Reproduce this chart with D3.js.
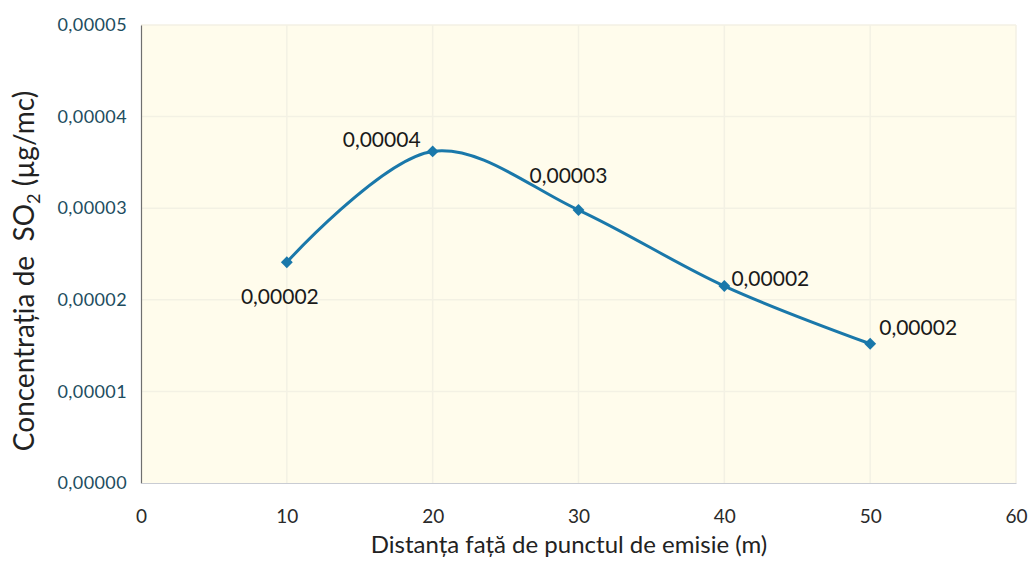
<!DOCTYPE html>
<html>
<head>
<meta charset="utf-8">
<script src="https://cdn.jsdelivr.net/npm/d3@7"></script>
<style>
  html, body { margin: 0; padding: 0; background: #ffffff; }
  svg { display: block; }
</style>
</head>
<body>
<svg id="chart" width="1029" height="565"></svg>
<script>
// ---- data ----
const distances = [10, 20, 30, 40, 50];
const concentrations = [0.0000241, 0.0000362, 0.0000298, 0.0000215, 0.0000152];
const xTicks = [0, 10, 20, 30, 40, 50, 60];
const yTicks = [0, 0.00001, 0.00002, 0.00003, 0.00004, 0.00005];
const xTitle = "Distanța față de punctul de emisie (m)";
const yTitleMain = "Concentrația de  SO";
const yTitleSub = "2";
const yTitleEnd = " (µg/mc)";
// label offsets (dx, dy relative to point) per point
const labelPos = [[-7, 42], [-51, -4], [-10, -27], [46, 0], [48, -9]];

// ---- layout ----
const svg = d3.select("#chart");
const pLeft = 141, pRight = 1016, pTop = 25, pBottom = 483;
const FONT = "Lato, 'Open Sans', sans-serif";

const x = d3.scaleLinear().domain([0, 60]).range([pLeft, pRight]);
const y = d3.scaleLinear().domain([0, 0.00005]).range([pBottom, pTop]);

const fmt = v => v.toFixed(5).replace(".", ",");

// plot background
svg.append("rect")
  .attr("x", pLeft).attr("y", pTop)
  .attr("width", pRight - pLeft).attr("height", pBottom - pTop)
  .attr("fill", "#fffcec");

// gridlines
svg.append("g").selectAll("line").data(yTicks.slice(1)).join("line")
  .attr("x1", pLeft).attr("x2", pRight)
  .attr("y1", d => y(d)).attr("y2", d => y(d))
  .attr("stroke", "#f3f1e4").attr("stroke-width", 1.5);
svg.append("g").selectAll("line").data(xTicks.slice(1)).join("line")
  .attr("y1", pTop).attr("y2", pBottom)
  .attr("x1", d => x(d)).attr("x2", d => x(d))
  .attr("stroke", "#f3f1e4").attr("stroke-width", 1.5);

// axes
const yAxis = d3.axisLeft(y).tickValues(yTicks).tickSize(0).tickPadding(14)
  .tickFormat(d => fmt(d));
const gy = svg.append("g").attr("transform", `translate(${pLeft},0)`).call(yAxis);
gy.select(".domain").attr("stroke", "#6f6f6f").attr("stroke-width", 1.2);
gy.selectAll("text")
  .attr("font-family", FONT)
  .attr("font-size", 18).attr("letter-spacing", 0.4).attr("fill", "#1d4d60");

const xAxis = d3.axisBottom(x).tickValues(xTicks).tickSize(0).tickPadding(27)
  .tickFormat(d3.format("d"));
const gx = svg.append("g").attr("transform", `translate(0,${pBottom})`).call(xAxis);
gx.select(".domain").attr("stroke", "#c9ccd3").attr("stroke-width", 1.2);
gx.selectAll("text")
  .attr("font-family", FONT)
  .attr("font-size", 19).attr("fill", "#2a2a2a");

// line
const pts = distances.map((d, i) => [d, concentrations[i]]);
const line = d3.line().x(d => x(d[0])).y(d => y(d[1]))
  .curve(d3.curveCatmullRom.alpha(0.5));
svg.append("path").datum(pts)
  .attr("d", line)
  .attr("fill", "none")
  .attr("stroke", "#1a78aa")
  .attr("stroke-width", 3);

// markers
svg.append("g").selectAll("path").data(pts).join("path")
  .attr("d", d3.symbol(d3.symbolDiamond2, 90))
  .attr("transform", d => `translate(${x(d[0])},${y(d[1])})`)
  .attr("fill", "#1a78aa");

// data labels
svg.append("g").selectAll("text").data(pts).join("text")
  .attr("x", (d, i) => x(d[0]) + labelPos[i][0])
  .attr("y", (d, i) => y(d[1]) + labelPos[i][1])
  .attr("text-anchor", "middle")
  .attr("font-family", FONT)
  .attr("font-size", 21).attr("fill", "#1a1a1a")
  .text(d => fmt(d[1]));

// x title
svg.append("text")
  .attr("x", 569).attr("y", 553)
  .attr("text-anchor", "middle")
  .attr("font-family", FONT)
  .attr("font-size", 24).attr("fill", "#222")
  .text(xTitle);

// y title
const yt = svg.append("text")
  .attr("transform", `translate(34,271) rotate(-90)`)
  .attr("text-anchor", "middle")
  .style("white-space", "pre")
  .attr("font-family", FONT)
  .attr("font-size", 28).attr("fill", "#222");
yt.append("tspan").text(yTitleMain);
yt.append("tspan").attr("font-size", 18).attr("dy", 6).text(yTitleSub);
yt.append("tspan").attr("dy", -6).text(yTitleEnd);
</script>
</body>
</html>
